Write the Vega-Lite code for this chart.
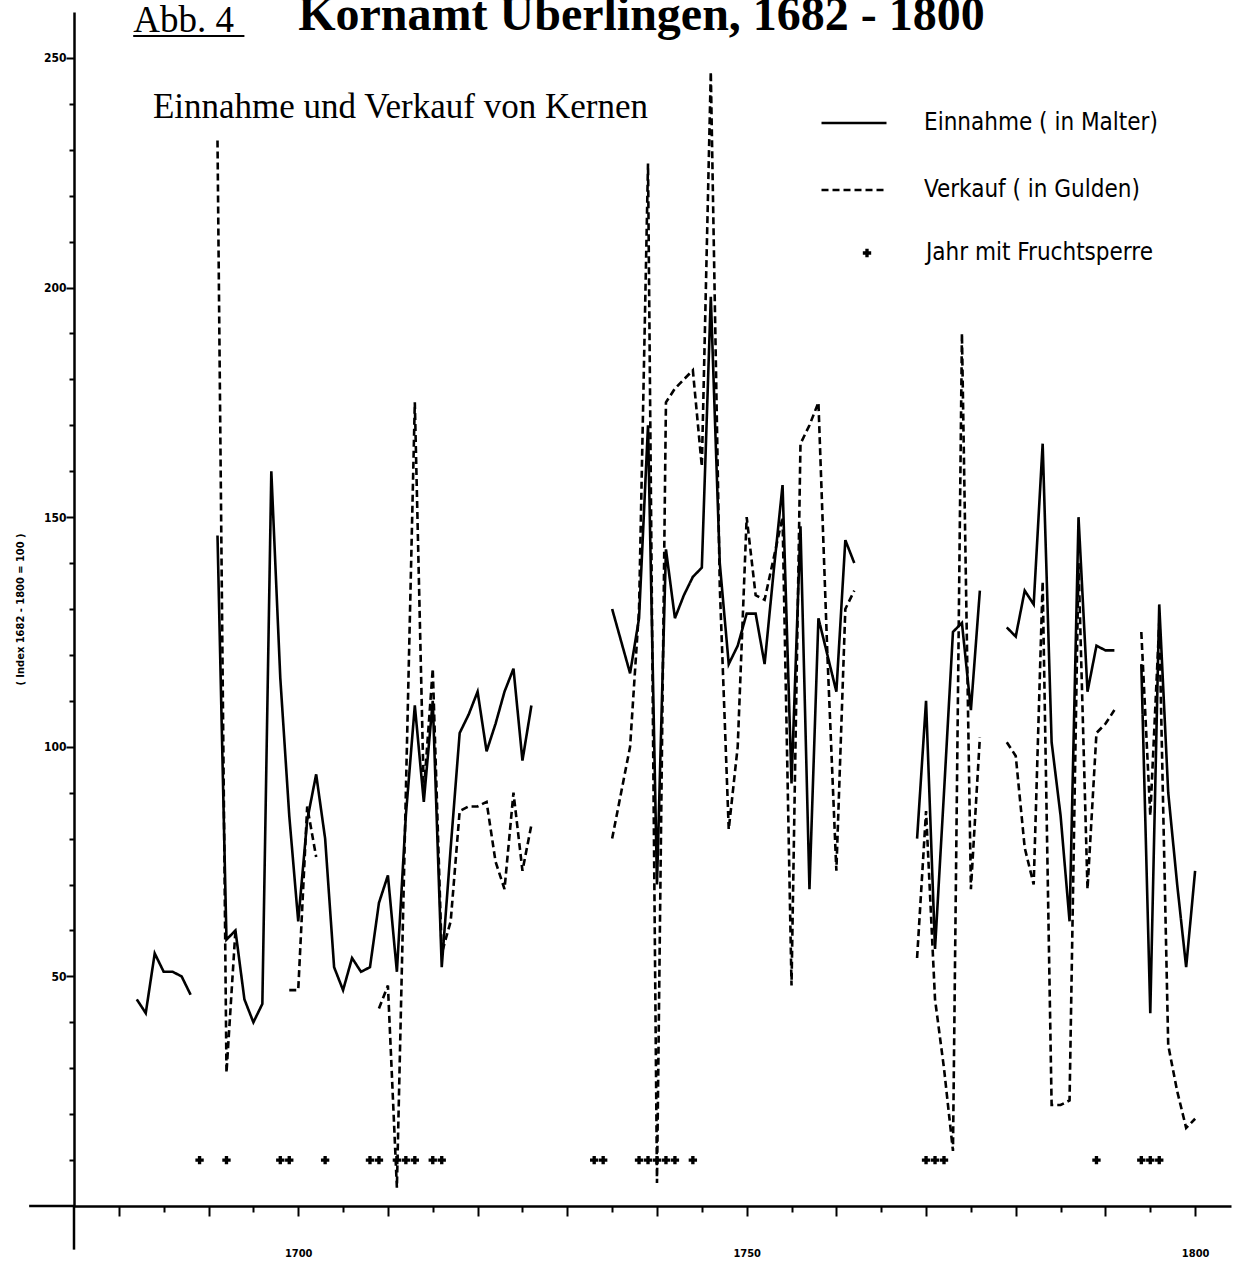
{
  "$schema": "https://vega.github.io/schema/vega-lite/v6.json",
  "width": 1157,
  "height": 1194,
  "autosize": {"type": "none"},
  "padding": {"left": 74, "top": 12, "right": 5, "bottom": 55},
  "background": "white",
  "config": {
    "view": {"stroke": null},
    "axis": {
      "labelFont": "DejaVu Sans Condensed, DejaVu Sans",
      "labelFontWeight": "bold",
      "labelFontSize": 12,
      "labelColor": "black",
      "titleFont": "DejaVu Sans Condensed, DejaVu Sans",
      "titleFontWeight": "bold",
      "titleFontSize": 11,
      "titleColor": "black",
      "domainColor": "black",
      "domainWidth": 2.5,
      "tickColor": "black",
      "tickWidth": 2,
      "grid": false
    }
  },
  "datasets": {
    "kornamt": [
      {"year": 1682, "series": "Einnahme", "value": 45},
      {"year": 1683, "series": "Einnahme", "value": 42},
      {"year": 1684, "series": "Einnahme", "value": 55},
      {"year": 1685, "series": "Einnahme", "value": 51},
      {"year": 1686, "series": "Einnahme", "value": 51},
      {"year": 1687, "series": "Einnahme", "value": 50},
      {"year": 1688, "series": "Einnahme", "value": 46},
      {"year": 1689, "series": "Einnahme", "value": null},
      {"year": 1691, "series": "Einnahme", "value": 146},
      {"year": 1692, "series": "Einnahme", "value": 58},
      {"year": 1693, "series": "Einnahme", "value": 60},
      {"year": 1694, "series": "Einnahme", "value": 45},
      {"year": 1695, "series": "Einnahme", "value": 40},
      {"year": 1696, "series": "Einnahme", "value": 44},
      {"year": 1697, "series": "Einnahme", "value": 160},
      {"year": 1698, "series": "Einnahme", "value": 115},
      {"year": 1699, "series": "Einnahme", "value": 85},
      {"year": 1700, "series": "Einnahme", "value": 62},
      {"year": 1701, "series": "Einnahme", "value": 84},
      {"year": 1702, "series": "Einnahme", "value": 94},
      {"year": 1703, "series": "Einnahme", "value": 80},
      {"year": 1704, "series": "Einnahme", "value": 52},
      {"year": 1705, "series": "Einnahme", "value": 47},
      {"year": 1706, "series": "Einnahme", "value": 54},
      {"year": 1707, "series": "Einnahme", "value": 51},
      {"year": 1708, "series": "Einnahme", "value": 52},
      {"year": 1709, "series": "Einnahme", "value": 66},
      {"year": 1710, "series": "Einnahme", "value": 72},
      {"year": 1711, "series": "Einnahme", "value": 51},
      {"year": 1712, "series": "Einnahme", "value": 85},
      {"year": 1713, "series": "Einnahme", "value": 109},
      {"year": 1714, "series": "Einnahme", "value": 88},
      {"year": 1715, "series": "Einnahme", "value": 110},
      {"year": 1716, "series": "Einnahme", "value": 52},
      {"year": 1717, "series": "Einnahme", "value": 78},
      {"year": 1718, "series": "Einnahme", "value": 103},
      {"year": 1719, "series": "Einnahme", "value": 107},
      {"year": 1720, "series": "Einnahme", "value": 112},
      {"year": 1721, "series": "Einnahme", "value": 99},
      {"year": 1722, "series": "Einnahme", "value": 105},
      {"year": 1723, "series": "Einnahme", "value": 112},
      {"year": 1724, "series": "Einnahme", "value": 117},
      {"year": 1725, "series": "Einnahme", "value": 97},
      {"year": 1726, "series": "Einnahme", "value": 109},
      {"year": 1727, "series": "Einnahme", "value": null},
      {"year": 1735, "series": "Einnahme", "value": 130},
      {"year": 1736, "series": "Einnahme", "value": 123},
      {"year": 1737, "series": "Einnahme", "value": 116},
      {"year": 1738, "series": "Einnahme", "value": 128},
      {"year": 1739, "series": "Einnahme", "value": 170},
      {"year": 1740, "series": "Einnahme", "value": 70},
      {"year": 1741, "series": "Einnahme", "value": 143},
      {"year": 1742, "series": "Einnahme", "value": 128},
      {"year": 1743, "series": "Einnahme", "value": 133},
      {"year": 1744, "series": "Einnahme", "value": 137},
      {"year": 1745, "series": "Einnahme", "value": 139},
      {"year": 1746, "series": "Einnahme", "value": 198},
      {"year": 1747, "series": "Einnahme", "value": 140},
      {"year": 1748, "series": "Einnahme", "value": 118},
      {"year": 1749, "series": "Einnahme", "value": 122},
      {"year": 1750, "series": "Einnahme", "value": 129},
      {"year": 1751, "series": "Einnahme", "value": 129},
      {"year": 1752, "series": "Einnahme", "value": 118},
      {"year": 1753, "series": "Einnahme", "value": 138},
      {"year": 1754, "series": "Einnahme", "value": 157},
      {"year": 1755, "series": "Einnahme", "value": 92},
      {"year": 1756, "series": "Einnahme", "value": 148},
      {"year": 1757, "series": "Einnahme", "value": 69},
      {"year": 1758, "series": "Einnahme", "value": 128},
      {"year": 1759, "series": "Einnahme", "value": 120},
      {"year": 1760, "series": "Einnahme", "value": 112},
      {"year": 1761, "series": "Einnahme", "value": 145},
      {"year": 1762, "series": "Einnahme", "value": 140},
      {"year": 1763, "series": "Einnahme", "value": null},
      {"year": 1769, "series": "Einnahme", "value": 80},
      {"year": 1770, "series": "Einnahme", "value": 110},
      {"year": 1771, "series": "Einnahme", "value": 56},
      {"year": 1772, "series": "Einnahme", "value": 90},
      {"year": 1773, "series": "Einnahme", "value": 125},
      {"year": 1774, "series": "Einnahme", "value": 127},
      {"year": 1775, "series": "Einnahme", "value": 108},
      {"year": 1776, "series": "Einnahme", "value": 134},
      {"year": 1777, "series": "Einnahme", "value": null},
      {"year": 1779, "series": "Einnahme", "value": 126},
      {"year": 1780, "series": "Einnahme", "value": 124},
      {"year": 1781, "series": "Einnahme", "value": 134},
      {"year": 1782, "series": "Einnahme", "value": 131},
      {"year": 1783, "series": "Einnahme", "value": 166},
      {"year": 1784, "series": "Einnahme", "value": 101},
      {"year": 1785, "series": "Einnahme", "value": 85},
      {"year": 1786, "series": "Einnahme", "value": 62},
      {"year": 1787, "series": "Einnahme", "value": 150},
      {"year": 1788, "series": "Einnahme", "value": 112},
      {"year": 1789, "series": "Einnahme", "value": 122},
      {"year": 1790, "series": "Einnahme", "value": 121},
      {"year": 1791, "series": "Einnahme", "value": 121},
      {"year": 1792, "series": "Einnahme", "value": null},
      {"year": 1794, "series": "Einnahme", "value": 118},
      {"year": 1795, "series": "Einnahme", "value": 42},
      {"year": 1796, "series": "Einnahme", "value": 131},
      {"year": 1797, "series": "Einnahme", "value": 90},
      {"year": 1798, "series": "Einnahme", "value": 70},
      {"year": 1799, "series": "Einnahme", "value": 52},
      {"year": 1800, "series": "Einnahme", "value": 73},

      {"year": 1691, "series": "Verkauf", "value": 232},
      {"year": 1692, "series": "Verkauf", "value": 29},
      {"year": 1693, "series": "Verkauf", "value": 60},
      {"year": 1694, "series": "Verkauf", "value": null},
      {"year": 1699, "series": "Verkauf", "value": 47},
      {"year": 1700, "series": "Verkauf", "value": 47},
      {"year": 1701, "series": "Verkauf", "value": 87},
      {"year": 1702, "series": "Verkauf", "value": 76},
      {"year": 1703, "series": "Verkauf", "value": null},
      {"year": 1709, "series": "Verkauf", "value": 43},
      {"year": 1710, "series": "Verkauf", "value": 48},
      {"year": 1711, "series": "Verkauf", "value": 4},
      {"year": 1712, "series": "Verkauf", "value": 90},
      {"year": 1713, "series": "Verkauf", "value": 175},
      {"year": 1714, "series": "Verkauf", "value": 90},
      {"year": 1715, "series": "Verkauf", "value": 117},
      {"year": 1716, "series": "Verkauf", "value": 55},
      {"year": 1717, "series": "Verkauf", "value": 62},
      {"year": 1718, "series": "Verkauf", "value": 86},
      {"year": 1719, "series": "Verkauf", "value": 87},
      {"year": 1720, "series": "Verkauf", "value": 87},
      {"year": 1721, "series": "Verkauf", "value": 88},
      {"year": 1722, "series": "Verkauf", "value": 75},
      {"year": 1723, "series": "Verkauf", "value": 69},
      {"year": 1724, "series": "Verkauf", "value": 90},
      {"year": 1725, "series": "Verkauf", "value": 73},
      {"year": 1726, "series": "Verkauf", "value": 83},
      {"year": 1727, "series": "Verkauf", "value": null},
      {"year": 1735, "series": "Verkauf", "value": 80},
      {"year": 1736, "series": "Verkauf", "value": 90},
      {"year": 1737, "series": "Verkauf", "value": 100},
      {"year": 1738, "series": "Verkauf", "value": 130},
      {"year": 1739, "series": "Verkauf", "value": 227},
      {"year": 1740, "series": "Verkauf", "value": 5},
      {"year": 1741, "series": "Verkauf", "value": 175},
      {"year": 1742, "series": "Verkauf", "value": 178},
      {"year": 1743, "series": "Verkauf", "value": 180},
      {"year": 1744, "series": "Verkauf", "value": 182},
      {"year": 1745, "series": "Verkauf", "value": 161},
      {"year": 1746, "series": "Verkauf", "value": 247},
      {"year": 1747, "series": "Verkauf", "value": 135},
      {"year": 1748, "series": "Verkauf", "value": 82},
      {"year": 1749, "series": "Verkauf", "value": 100},
      {"year": 1750, "series": "Verkauf", "value": 150},
      {"year": 1751, "series": "Verkauf", "value": 133},
      {"year": 1752, "series": "Verkauf", "value": 132},
      {"year": 1753, "series": "Verkauf", "value": 141},
      {"year": 1754, "series": "Verkauf", "value": 150},
      {"year": 1755, "series": "Verkauf", "value": 48},
      {"year": 1756, "series": "Verkauf", "value": 166},
      {"year": 1757, "series": "Verkauf", "value": 170},
      {"year": 1758, "series": "Verkauf", "value": 175},
      {"year": 1759, "series": "Verkauf", "value": 120},
      {"year": 1760, "series": "Verkauf", "value": 73},
      {"year": 1761, "series": "Verkauf", "value": 130},
      {"year": 1762, "series": "Verkauf", "value": 134},
      {"year": 1763, "series": "Verkauf", "value": null},
      {"year": 1769, "series": "Verkauf", "value": 54},
      {"year": 1770, "series": "Verkauf", "value": 86},
      {"year": 1771, "series": "Verkauf", "value": 45},
      {"year": 1772, "series": "Verkauf", "value": 30},
      {"year": 1773, "series": "Verkauf", "value": 12},
      {"year": 1774, "series": "Verkauf", "value": 190},
      {"year": 1775, "series": "Verkauf", "value": 69},
      {"year": 1776, "series": "Verkauf", "value": 102},
      {"year": 1777, "series": "Verkauf", "value": null},
      {"year": 1779, "series": "Verkauf", "value": 101},
      {"year": 1780, "series": "Verkauf", "value": 98},
      {"year": 1781, "series": "Verkauf", "value": 78},
      {"year": 1782, "series": "Verkauf", "value": 70},
      {"year": 1783, "series": "Verkauf", "value": 136},
      {"year": 1784, "series": "Verkauf", "value": 22},
      {"year": 1785, "series": "Verkauf", "value": 22},
      {"year": 1786, "series": "Verkauf", "value": 23},
      {"year": 1787, "series": "Verkauf", "value": 140},
      {"year": 1788, "series": "Verkauf", "value": 69},
      {"year": 1789, "series": "Verkauf", "value": 103},
      {"year": 1790, "series": "Verkauf", "value": 105},
      {"year": 1791, "series": "Verkauf", "value": 108},
      {"year": 1792, "series": "Verkauf", "value": null},
      {"year": 1794, "series": "Verkauf", "value": 125},
      {"year": 1795, "series": "Verkauf", "value": 85},
      {"year": 1796, "series": "Verkauf", "value": 127},
      {"year": 1797, "series": "Verkauf", "value": 35},
      {"year": 1798, "series": "Verkauf", "value": 25},
      {"year": 1799, "series": "Verkauf", "value": 17},
      {"year": 1800, "series": "Verkauf", "value": 19}
    ],
    "sperre": [
      {"year": 1689}, {"year": 1692}, {"year": 1698}, {"year": 1699}, {"year": 1703},
      {"year": 1708}, {"year": 1709}, {"year": 1711}, {"year": 1712}, {"year": 1713},
      {"year": 1715}, {"year": 1716}, {"year": 1733}, {"year": 1734}, {"year": 1738},
      {"year": 1739}, {"year": 1740}, {"year": 1741}, {"year": 1742}, {"year": 1744},
      {"year": 1770}, {"year": 1771}, {"year": 1772}, {"year": 1789}, {"year": 1794},
      {"year": 1795}, {"year": 1796}
    ]
  },
  "layer": [
    {
      "data": {"name": "kornamt"},
      "mark": {"type": "line", "color": "black", "strokeWidth": 2.6, "invalid": "break-paths-show-domains"},
      "encoding": {
        "x": {
          "field": "year",
          "type": "quantitative",
          "scale": {"domain": [1675, 1804], "nice": false, "zero": false},
          "axis": {
            "title": null,
            "values": [1680, 1685, 1690, 1695, 1700, 1705, 1710, 1715, 1720, 1725, 1730, 1735, 1740, 1745, 1750, 1755, 1760, 1765, 1770, 1775, 1780, 1785, 1790, 1795, 1800],
            "format": "d",
            "labelExpr": "datum.value % 50 === 0 ? datum.label : ''",
            "tickSize": {"condition": {"test": "datum.value % 10 === 0", "value": 10}, "value": 6},
            "labelPadding": 31,
            "labelFontSize": 11,
            "labelFlush": false
          }
        },
        "y": {
          "field": "value",
          "type": "quantitative",
          "scale": {"domain": [0, 260], "nice": false},
          "axis": {
            "title": "( Index 1682 - 1800 = 100 )",
            "values": [10, 20, 30, 40, 50, 60, 70, 80, 90, 100, 110, 120, 130, 140, 150, 160, 170, 180, 190, 200, 210, 220, 230, 240, 250],
            "labelExpr": "datum.value % 50 === 0 ? datum.label : ''",
            "tickSize": {"condition": {"test": "datum.value % 50 === 0", "value": 8}, "value": 5},
            "labelPadding": 0,
            "titlePadding": 18
          }
        },
        "strokeDash": {
          "field": "series",
          "type": "nominal",
          "scale": {"domain": ["Einnahme", "Verkauf"], "range": [[1, 0], [7, 4]]},
          "legend": {
            "orient": "none",
            "legendX": 746,
            "legendY": 77,
            "title": null,
            "padding": 0,
            "symbolType": "stroke",
            "symbolSize": 4225,
            "symbolStrokeWidth": 2.5,
            "symbolStrokeColor": "black",
            "labelExpr": "datum.label === 'Einnahme' ? 'Einnahme  ( in Malter)' : 'Verkauf  ( in Gulden)'",
            "labelFont": "DejaVu Sans Condensed, DejaVu Sans",
            "labelFontSize": 24,
            "labelColor": "black",
            "labelOffset": 36,
            "labelLimit": 400,
            "rowPadding": 21
          }
        }
      }
    },
    {
      "data": {"name": "sperre"},
      "mark": {"type": "point", "filled": true, "color": "black", "opacity": 1, "size": 70},
      "encoding": {
        "x": {"field": "year", "type": "quantitative"},
        "y": {"datum": 10},
        "shape": {
          "datum": "Jahr mit  Fruchtsperre",
          "scale": {"range": ["cross"]},
          "legend": {
            "orient": "none",
            "legendX": 781,
            "legendY": 229,
            "title": null,
            "padding": 0,
            "symbolSize": 70,
            "symbolOpacity": 1,
            "symbolFillColor": "black",
            "symbolStrokeColor": "black",
            "labelFont": "DejaVu Sans Condensed, DejaVu Sans",
            "labelFontSize": 24,
            "labelColor": "black",
            "labelOffset": 47,
            "labelLimit": 400
          }
        }
      }
    },
    {
      "data": {"values": [{}]},
      "mark": {"type": "rule", "color": "black", "strokeWidth": 2.5},
      "encoding": {"x": {"datum": 1675}, "y": {"datum": 0}, "y2": {"datum": -9.5}}
    },
    {
      "data": {"values": [{}]},
      "mark": {"type": "rule", "color": "black", "strokeWidth": 2.5},
      "encoding": {"x": {"datum": 1670}, "x2": {"datum": 1675}, "y": {"datum": 0}}
    },
    {
      "data": {"values": [{}]},
      "mark": {"type": "text", "text": "Abb. 4", "font": "Liberation Serif", "fontSize": 37, "align": "left", "baseline": "alphabetic", "color": "black"},
      "encoding": {"x": {"datum": 1681.6}, "y": {"datum": 255.6}}
    },
    {
      "data": {"values": [{}]},
      "mark": {"type": "rule", "color": "black", "strokeWidth": 2},
      "encoding": {"x": {"datum": 1681.6}, "x2": {"datum": 1694}, "y": {"datum": 254.8}}
    },
    {
      "data": {"values": [{}]},
      "mark": {"type": "text", "text": "Kornamt Überlingen, 1682 - 1800", "font": "Liberation Serif", "fontSize": 48, "fontWeight": "bold", "align": "left", "baseline": "alphabetic", "color": "black"},
      "encoding": {"x": {"datum": 1700}, "y": {"datum": 256}}
    },
    {
      "data": {"values": [{}]},
      "mark": {"type": "text", "text": "Einnahme und Verkauf von Kernen", "font": "Liberation Serif", "fontSize": 35, "align": "left", "baseline": "alphabetic", "color": "black"},
      "encoding": {"x": {"datum": 1683.8}, "y": {"datum": 237}}
    }
  ]
}
